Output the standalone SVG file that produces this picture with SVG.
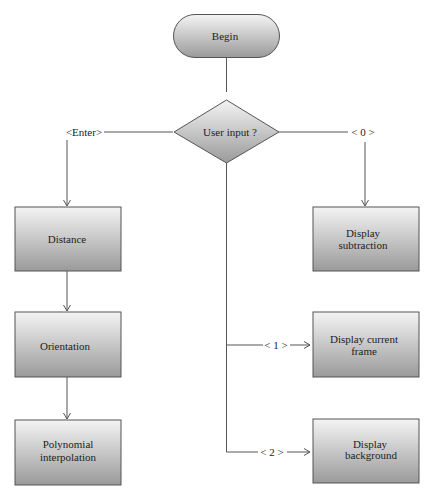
<svg xmlns="http://www.w3.org/2000/svg" width="434" height="500" viewBox="0 0 434 500">
<defs>
<linearGradient id="g" x1="0" y1="0" x2="0" y2="1">
<stop offset="0" stop-color="#f4f4f4"/>
<stop offset="1" stop-color="#9a9a9a"/>
</linearGradient>
<marker id="a" markerWidth="10" markerHeight="10" refX="8" refY="5" orient="auto" markerUnits="userSpaceOnUse">
<path d="M2,1.5 L8,5 L2,8.5" fill="none" stroke="#555" stroke-width="1"/>
</marker>
</defs>
<style>
.n{fill:url(#g);stroke:#555;stroke-width:1}
.t{font-family:"Liberation Serif","Times New Roman",serif;font-size:11px;fill:#222;text-anchor:middle}
.c{fill:none;stroke:#555;stroke-width:1}
</style>
<rect width="434" height="500" fill="#fff"/>
<g id="connectors">
<line class="c" x1="226.5" y1="57" x2="226.5" y2="92"/>
<line class="c" x1="104" y1="132" x2="173" y2="132"/>
<line class="c" x1="67" y1="140" x2="67" y2="206" marker-end="url(#a)"/>
<line class="c" x1="279" y1="132" x2="348" y2="132"/>
<line class="c" x1="365" y1="142" x2="365" y2="206" marker-end="url(#a)"/>
<line class="c" x1="67" y1="271" x2="67" y2="311" marker-end="url(#a)"/>
<line class="c" x1="67" y1="377" x2="67" y2="419" marker-end="url(#a)"/>
<polyline class="c" points="226.5,163 226.5,452 258,452"/>
<line class="c" x1="226.5" y1="345" x2="263" y2="345"/>
<line class="c" x1="290" y1="345" x2="310" y2="345" marker-end="url(#a)"/>
<line class="c" x1="287" y1="452" x2="310" y2="452" marker-end="url(#a)"/>
</g>
<g id="labels">
<text class="t" x="84" y="136">&lt;Enter&gt;</text>
<text class="t" x="363" y="136">&lt; 0 &gt;</text>
<text class="t" x="276" y="349">&lt; 1 &gt;</text>
<text class="t" x="272" y="456">&lt; 2 &gt;</text>
</g>
<g id="begin">
<rect class="n" x="173.5" y="14.5" width="106" height="43" rx="21.5" ry="21.5"/>
<text class="t" x="225" y="40">Begin</text>
</g>
<g id="user-input">
<polygon class="n" points="226.5,100 279,132 226.5,163 174,132"/>
<text class="t" x="230" y="136">User input ?</text>
</g>
<g id="distance">
<rect class="n" x="15" y="207" width="106" height="64"/>
<text class="t" x="67" y="243">Distance</text>
</g>
<g id="orientation">
<rect class="n" x="15" y="312" width="106" height="65"/>
<text class="t" x="65" y="350">Orientation</text>
</g>
<g id="polynomial">
<rect class="n" x="15" y="420" width="106" height="65"/>
<text class="t" x="68" y="448">Polynomial</text>
<text class="t" x="68" y="461">interpolation</text>
</g>
<g id="display-subtraction">
<rect class="n" x="313" y="207" width="106" height="64"/>
<text class="t" x="363" y="237">Display</text>
<text class="t" x="363" y="249">subtraction</text>
</g>
<g id="display-current-frame">
<rect class="n" x="313" y="312" width="106" height="65"/>
<text class="t" x="364" y="343">Display current</text>
<text class="t" x="364" y="355">frame</text>
</g>
<g id="display-background">
<rect class="n" x="313" y="419" width="106" height="64"/>
<text class="t" x="370" y="448">Display</text>
<text class="t" x="371" y="459">background</text>
</g>
</svg>
